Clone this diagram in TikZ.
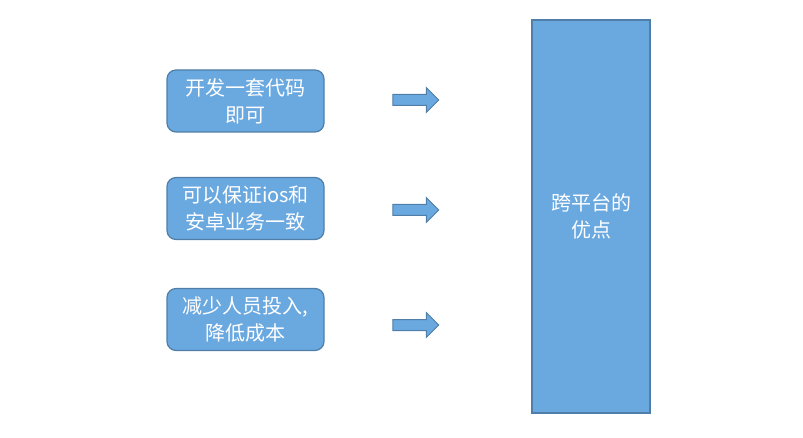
\documentclass[tikz,border=0pt]{standalone}
\usepackage{fontspec}
\newfontfamily\cjk{Noto Sans CJK SC}
\usetikzlibrary{shapes.arrows}
\definecolor{boxfill}{HTML}{6AA8E0}
\definecolor{boxline}{HTML}{4F7FA8}
\tikzset{
  x=1pt,y=-1pt,
  txt/.style={text=white,font=\cjk\fontsize{20}{27}\selectfont,align=center},
  leftbox/.style={txt,draw=boxline,line width=1.2pt,fill=boxfill,rounded corners=9pt,minimum width=157pt,minimum height=62pt,inner sep=0pt},
  bigbox/.style={txt,draw=boxline,line width=1.2pt,fill=boxfill,minimum width=118pt,minimum height=393pt,inner sep=0pt},
  arr/.style={single arrow,draw=boxline,line width=1pt,fill=boxfill,inner xsep=0pt,inner ysep=5pt,single arrow head extend=7pt,minimum height=46pt,single arrow tip angle=90}
}
\begin{document}
\begin{tikzpicture}
\useasboundingbox (0,0) rectangle (803,438);
\node[bigbox] (big) at (591,216.5) {跨平台的\\优点};
\node[leftbox] (b1) at (245.5,101) {开发一套代码\\即可};
\node[leftbox] (b2) at (245.5,208.5) {可以保证ios和\\安卓业务一致};
\node[leftbox] (b3) at (245.5,319.5) {减少人员投入,\\降低成本};
\node[arr] (a1) at (413,100) {};
\node[arr] (a2) at (413,210) {};
\node[arr] (a3) at (413,325) {};
\end{tikzpicture}
\end{document}
